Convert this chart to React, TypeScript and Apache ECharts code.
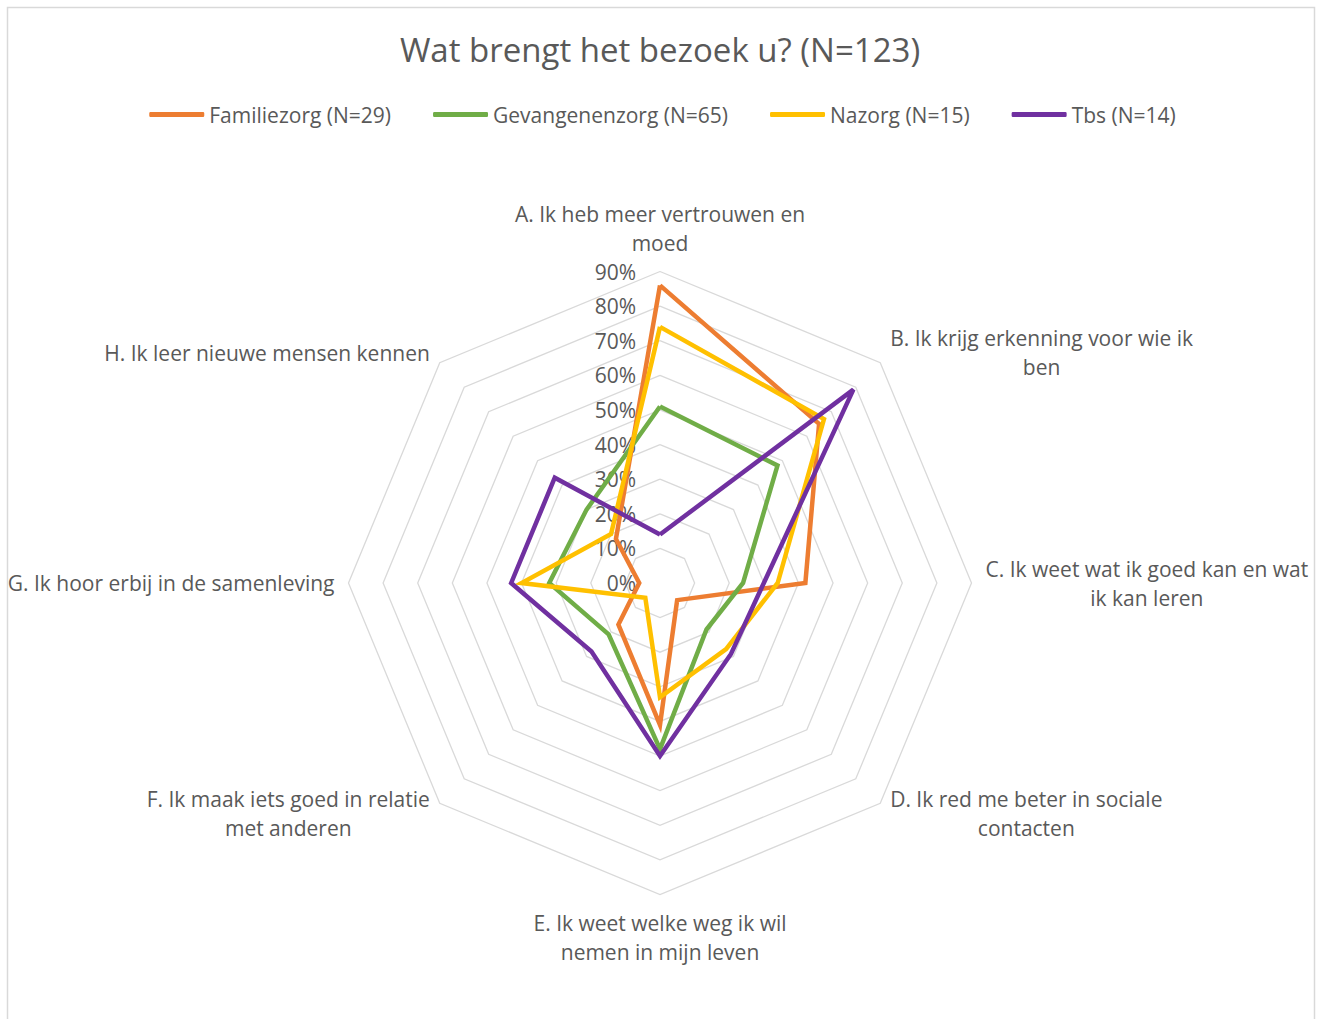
import React, { useEffect, useRef } from "react";
import * as echarts from "echarts";

const titleText = "Wat brengt het bezoek u? (N=123)";

const categories = [
  "A. Ik heb meer vertrouwen en\nmoed",
  "B. Ik krijg erkenning voor wie ik\nben",
  "C. Ik weet wat ik goed kan en wat\nik kan leren",
  "D. Ik red me beter in sociale\ncontacten",
  "E. Ik weet welke weg ik wil\nnemen in mijn leven",
  "F. Ik maak iets goed in relatie\nmet anderen",
  "G. Ik hoor erbij in de samenleving",
  "H. Ik leer nieuwe mensen kennen",
];

const seriesNames = [
  "Familiezorg (N=29)",
  "Gevangenenzorg (N=65)",
  "Nazorg (N=15)",
  "Tbs (N=14)",
];

// values in %, order A..H
const familiezorg = [86, 65, 42, 7, 41, 17, 6, 18];
const gevangenenzorg = [51, 48, 24, 19, 48, 21, 32, 30];
const nazorg = [74, 67, 34, 27, 33, 6, 40, 20];
const tbs = [14, 79, 30, 29, 50, 28, 43, 43];

const axisMin = 0;
const axisMax = 90;
const splitCount = 9;

const colors = ["#ED7D31", "#70AD47", "#FFC000", "#7030A0"];

const FONT = "'Open Sans', 'Noto Sans', sans-serif";
const TEXT_COLOR = "#595959";

export default function App() {
  const ref = useRef<HTMLDivElement>(null);

  useEffect(() => {
    if (!ref.current) return;
    const chart = echarts.init(ref.current, undefined, { renderer: "svg" });

    // ECharts radar runs counter-clockwise; reorder so A..H runs clockwise from top
    const order = [0, 7, 6, 5, 4, 3, 2, 1];
    const allSeries = [familiezorg, gevangenenzorg, nazorg, tbs];

    const indicator = order.map((i, k) => {
      const ind: any = { name: categories[i], min: axisMin, max: axisMax };
      if (k === 0) {
        ind.axisLabel = {
          show: true,
          formatter: "{value}%",
          color: TEXT_COLOR,
          fontSize: 21,
          fontFamily: FONT,
          margin: 24,
        };
      }
      return ind;
    });

    const option: any = {
      animation: false,
      backgroundColor: "#ffffff",
      textStyle: { fontFamily: FONT },
      title: {
        text: titleText,
        left: 655,
        textAlign: "center",
        top: 28,
        textStyle: {
          color: TEXT_COLOR,
          fontSize: 33,
          fontWeight: "normal",
          fontFamily: FONT,
        },
      },
      legend: {
        top: 99,
        left: "center",
        icon: "roundRect",
        itemWidth: 55,
        itemHeight: 5,
        itemGap: 42,
        data: seriesNames,
        textStyle: { color: TEXT_COLOR, fontSize: 21, fontFamily: FONT },
      },
      graphic: [
        {
          type: "rect",
          shape: { x: 7.5, y: 7.5, width: 1307, height: 1040 },
          style: { fill: "none", stroke: "#D9D9D9", lineWidth: 1.5 },
          silent: true,
        },
      ],
      radar: {
        center: [660, 583],
        radius: 311.5,
        startAngle: 90,
        shape: "polygon",
        splitNumber: splitCount,
        nameGap: 14,
        indicator,
        axisName: {
          color: TEXT_COLOR,
          fontSize: 21,
          fontFamily: FONT,
          lineHeight: 29,
          formatter: (name: string) =>
            name
              .split("\n")
              .map((l) => `{c|${l}}`)
              .join("\n"),
          rich: {
            c: {
              align: "center",
              color: TEXT_COLOR,
              fontSize: 21,
              fontFamily: FONT,
              lineHeight: 29,
            },
          },
        },
        axisLine: { show: false },
        axisTick: { show: false },
        axisLabel: { show: false },
        splitLine: { lineStyle: { color: "#D9D9D9", width: 1.3 } },
        splitArea: { show: false },
      },
      series: [
        {
          type: "radar",
          symbol: "none",
          data: allSeries.map((arr, s) => ({
            name: seriesNames[s],
            value: order.map((i) => arr[i]),
            itemStyle: { color: colors[s] },
            lineStyle: { color: colors[s], width: 4.5, join: "miter" },
          })),
        },
      ],
    };

    chart.setOption(option);
    return () => chart.dispose();
  }, []);

  return (
    <div
      ref={ref}
      style={{ position: "fixed", left: 0, top: 0, width: 1325, height: 1019 }}
    />
  );
}
